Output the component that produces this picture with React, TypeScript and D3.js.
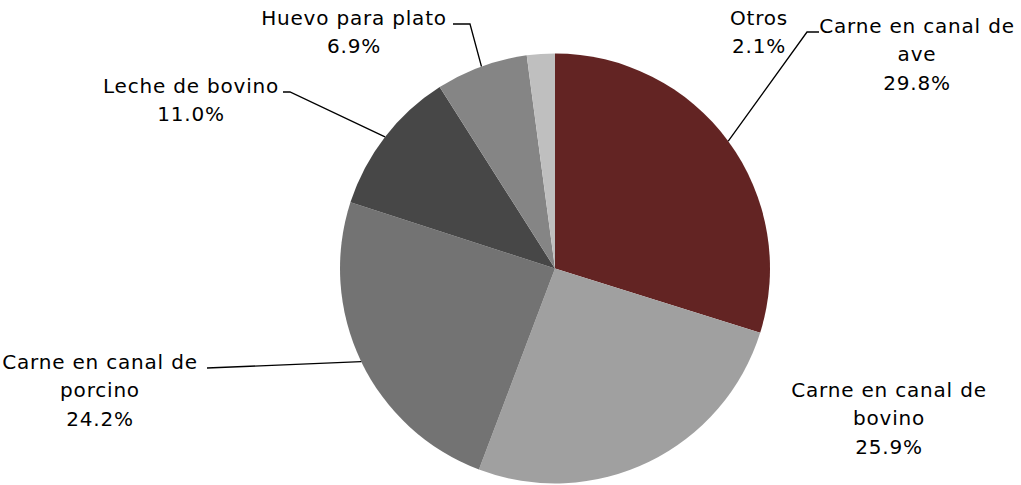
import React from "react";
import * as d3 from "d3";

const categories = [
  "Carne en canal de ave",
  "Carne en canal de bovino",
  "Carne en canal de porcino",
  "Leche de bovino",
  "Huevo para plato",
  "Otros",
];
const values = [29.8, 25.9, 24.2, 11.0, 6.9, 2.1];
const labelLines = [
  ["Carne en canal de", "ave", "29.8%"],
  ["Carne en canal de", "bovino", "25.9%"],
  ["Carne en canal de", "porcino", "24.2%"],
  ["Leche de bovino", "11.0%"],
  ["Huevo para plato", "6.9%"],
  ["Otros", "2.1%"],
];
const colors = ["#632423", "#A0A0A0", "#737373", "#474747", "#858585", "#BFBFBF"];

// label layout: center x, first baseline y, leader elbow points (null = no leader)
const labelLayout = [
  { x: 917, y: 33, leader: [[807, 32], [819, 32]] },
  { x: 889, y: 397, leader: null },
  { x: 100, y: 369, leader: [[207, 368]] },
  { x: 191, y: 93, leader: [[290, 92], [283, 92]] },
  { x: 354, y: 25, leader: [[470, 24], [453, 24]] },
  { x: 759, y: 25, leader: null },
];

export default function App() {
  const width = 1021;
  const height = 485;
  const cx = 555;
  const cy = 268.5;
  const r = 215;
  const pie = d3.pie<number>().sort(null).value((d) => d)(values);
  const arc = d3.arc<d3.PieArcDatum<number>>().innerRadius(0).outerRadius(r);
  const lh = 28.3;
  return (
    <svg
      width={width}
      height={height}
      style={{ position: "absolute", left: 0, top: 0, background: "#fff" }}
      fontFamily="'DejaVu Sans', sans-serif"
    >
      <g transform={`translate(${cx},${cy})`}>
        {pie.map((p, i) => (
          <path key={i} d={arc(p) || ""} fill={colors[i]}>
            <title>{categories[i]}</title>
          </path>
        ))}
      </g>
      {pie.map((p, i) => {
        const L = labelLayout[i];
        if (!L.leader) return null;
        const a = (p.startAngle + p.endAngle) / 2;
        const sx = cx + r * Math.sin(a);
        const sy = cy - r * Math.cos(a);
        const pts = [[sx, sy], ...L.leader];
        return (
          <polyline
            key={"l" + i}
            points={pts.map((q) => q.join(",")).join(" ")}
            fill="none"
            stroke="#000"
            strokeWidth={1.3}
          />
        );
      })}
      {labelLines.map((lines, i) => (
        <text
          key={"t" + i}
          x={labelLayout[i].x}
          y={labelLayout[i].y}
          textAnchor="middle"
          fontSize={20}
          letterSpacing={0.8}
          fill="#000"
        >
          {lines.map((s, j) => (
            <tspan key={j} x={labelLayout[i].x} y={labelLayout[i].y + j * lh}>
              {s}
            </tspan>
          ))}
        </text>
      ))}
    </svg>
  );
}
